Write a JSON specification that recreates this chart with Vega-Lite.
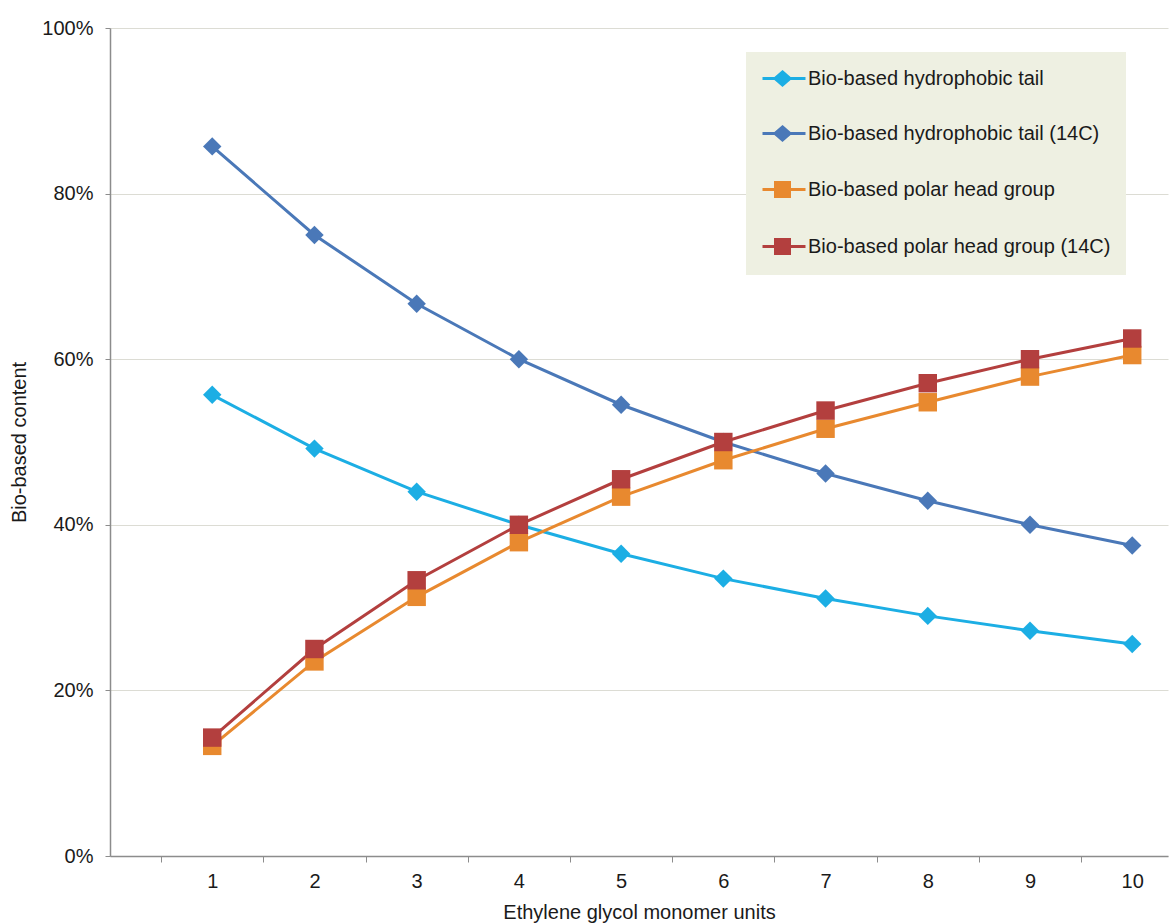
{
  "$schema": "https://vega.github.io/schema/vega-lite/v6.json",
  "width": 1058,
  "height": 828,
  "autosize": {"type": "none"},
  "padding": {"left": 110, "top": 28, "right": 2, "bottom": 68},
  "background": "white",
  "config": {
    "view": {"stroke": null},
    "font": "Liberation Sans"
  },
  "data": {
    "values": [
      {"n": 1, "series": "Bio-based hydrophobic tail", "v": 0.557},
      {"n": 2, "series": "Bio-based hydrophobic tail", "v": 0.492},
      {"n": 3, "series": "Bio-based hydrophobic tail", "v": 0.440},
      {"n": 4, "series": "Bio-based hydrophobic tail", "v": 0.400},
      {"n": 5, "series": "Bio-based hydrophobic tail", "v": 0.365},
      {"n": 6, "series": "Bio-based hydrophobic tail", "v": 0.335},
      {"n": 7, "series": "Bio-based hydrophobic tail", "v": 0.311},
      {"n": 8, "series": "Bio-based hydrophobic tail", "v": 0.290},
      {"n": 9, "series": "Bio-based hydrophobic tail", "v": 0.272},
      {"n": 10, "series": "Bio-based hydrophobic tail", "v": 0.256},
      {"n": 1, "series": "Bio-based hydrophobic tail (14C)", "v": 0.857},
      {"n": 2, "series": "Bio-based hydrophobic tail (14C)", "v": 0.750},
      {"n": 3, "series": "Bio-based hydrophobic tail (14C)", "v": 0.667},
      {"n": 4, "series": "Bio-based hydrophobic tail (14C)", "v": 0.600},
      {"n": 5, "series": "Bio-based hydrophobic tail (14C)", "v": 0.545},
      {"n": 6, "series": "Bio-based hydrophobic tail (14C)", "v": 0.500},
      {"n": 7, "series": "Bio-based hydrophobic tail (14C)", "v": 0.462},
      {"n": 8, "series": "Bio-based hydrophobic tail (14C)", "v": 0.429},
      {"n": 9, "series": "Bio-based hydrophobic tail (14C)", "v": 0.400},
      {"n": 10, "series": "Bio-based hydrophobic tail (14C)", "v": 0.375},
      {"n": 1, "series": "Bio-based polar head group", "v": 0.133},
      {"n": 2, "series": "Bio-based polar head group", "v": 0.235},
      {"n": 3, "series": "Bio-based polar head group", "v": 0.313},
      {"n": 4, "series": "Bio-based polar head group", "v": 0.379},
      {"n": 5, "series": "Bio-based polar head group", "v": 0.434},
      {"n": 6, "series": "Bio-based polar head group", "v": 0.478},
      {"n": 7, "series": "Bio-based polar head group", "v": 0.516},
      {"n": 8, "series": "Bio-based polar head group", "v": 0.548},
      {"n": 9, "series": "Bio-based polar head group", "v": 0.579},
      {"n": 10, "series": "Bio-based polar head group", "v": 0.605},
      {"n": 1, "series": "Bio-based polar head group (14C)", "v": 0.143},
      {"n": 2, "series": "Bio-based polar head group (14C)", "v": 0.250},
      {"n": 3, "series": "Bio-based polar head group (14C)", "v": 0.333},
      {"n": 4, "series": "Bio-based polar head group (14C)", "v": 0.400},
      {"n": 5, "series": "Bio-based polar head group (14C)", "v": 0.455},
      {"n": 6, "series": "Bio-based polar head group (14C)", "v": 0.500},
      {"n": 7, "series": "Bio-based polar head group (14C)", "v": 0.538},
      {"n": 8, "series": "Bio-based polar head group (14C)", "v": 0.571},
      {"n": 9, "series": "Bio-based polar head group (14C)", "v": 0.600},
      {"n": 10, "series": "Bio-based polar head group (14C)", "v": 0.625}
    ]
  },
  "encoding": {
    "x": {
      "field": "n",
      "type": "quantitative",
      "scale": {"domain": [0, 10.35], "nice": false, "zero": false},
      "axis": {
        "title": "Ethylene glycol monomer units",
        "values": [0.5, 1, 1.5, 2, 2.5, 3, 3.5, 4, 4.5, 5, 5.5, 6, 6.5, 7, 7.5, 8, 8.5, 9, 9.5, 10],
        "labelExpr": "datum.value % 1 == 0 ? format(datum.value, 'd') : ''",
        "tickOpacity": {"condition": {"test": "datum.value % 1 == 0", "value": 0}, "value": 1},
        "grid": false,
        "domainColor": "#8c8c8c",
        "domainWidth": 1.5,
        "tickColor": "#8c8c8c",
        "tickSize": 6,
        "labelFontSize": 20,
        "labelColor": "#1a1a1a",
        "labelPadding": 9,
        "labelFont": "Liberation Sans",
        "titleFont": "Liberation Sans",
        "titleFontSize": 20,
        "titleFontWeight": "normal",
        "titleColor": "#1a1a1a",
        "titlePadding": 11
      }
    },
    "y": {
      "field": "v",
      "type": "quantitative",
      "scale": {"domain": [0, 1], "nice": false},
      "axis": {
        "title": "Bio-based content",
        "values": [0, 0.2, 0.4, 0.6, 0.8, 1],
        "format": ".0%",
        "grid": true,
        "gridColor": "#dcdcd4",
        "gridWidth": 1,
        "domainColor": "#8c8c8c",
        "domainWidth": 1.5,
        "tickColor": "#8c8c8c",
        "tickSize": 5,
        "labelFontSize": 20,
        "labelColor": "#1a1a1a",
        "labelPadding": 12,
        "labelFont": "Liberation Sans",
        "titleFont": "Liberation Sans",
        "titleFontSize": 20,
        "titleFontWeight": "normal",
        "titleColor": "#1a1a1a",
        "titlePadding": 12
      }
    }
  },
  "resolve": {
    "scale": {"shape": "independent", "fill": "independent", "stroke": "independent"},
    "legend": {"shape": "independent", "fill": "independent", "stroke": "independent"}
  },
  "layer": [
    {
      "mark": {"type": "line", "strokeWidth": 3},
      "encoding": {
        "color": {
          "field": "series",
          "type": "nominal",
          "scale": {
            "domain": ["Bio-based hydrophobic tail", "Bio-based hydrophobic tail (14C)", "Bio-based polar head group", "Bio-based polar head group (14C)"],
            "range": ["#1caee4", "#4a78b8", "#e8892f", "#b33f3e"]
          },
          "legend": null
        }
      }
    },
    {
      "mark": {"type": "point", "filled": true, "opacity": 1},
      "encoding": {
        "color": {"field": "series", "type": "nominal", "legend": null},
        "shape": {
          "field": "series",
          "type": "nominal",
          "scale": {
            "domain": ["Bio-based hydrophobic tail", "Bio-based hydrophobic tail (14C)", "Bio-based polar head group", "Bio-based polar head group (14C)"],
            "range": ["diamond", "diamond", "square", "square"]
          },
          "legend": null
        },
        "size": {"value": 340}
      }
    },
    {
      "transform": [{"filter": "datum.n > 100"}],
      "mark": {"type": "point", "filled": true, "opacity": 1, "strokeWidth": 3},
      "encoding": {
        "fill": {
          "field": "series",
          "type": "nominal",
          "scale": {
            "domain": ["Bio-based hydrophobic tail", "Bio-based hydrophobic tail (14C)", "Bio-based polar head group", "Bio-based polar head group (14C)"],
            "range": ["#1caee4", "#4a78b8", "#e8892f", "#b33f3e"]
          },
          "legend": {
            "title": null,
            "orient": "none",
            "legendX": 636,
            "legendY": 24,
            "fillColor": "#eef0e2",
            "padding": 15,
            "symbolSize": 400,
            "symbolStrokeWidth": 3,
            "symbolOpacity": 1,
            "labelOffset": 24,
            "labelFontSize": 20,
            "labelFont": "Liberation Sans",
            "labelColor": "#1a1a1a",
            "labelLimit": 400,
            "rowPadding": 30
          }
        },
        "stroke": {
          "field": "series",
          "type": "nominal",
          "scale": {
            "domain": ["Bio-based hydrophobic tail", "Bio-based hydrophobic tail (14C)", "Bio-based polar head group", "Bio-based polar head group (14C)"],
            "range": ["#1caee4", "#4a78b8", "#e8892f", "#b33f3e"]
          },
          "legend": {
            "title": null,
            "orient": "none",
            "legendX": 636,
            "legendY": 24,
            "fillColor": "#eef0e2",
            "padding": 15,
            "symbolSize": 400,
            "symbolStrokeWidth": 3,
            "symbolOpacity": 1,
            "labelOffset": 24,
            "labelFontSize": 20,
            "labelFont": "Liberation Sans",
            "labelColor": "#1a1a1a",
            "labelLimit": 400,
            "rowPadding": 30
          }
        },
        "shape": {
          "field": "series",
          "type": "nominal",
          "scale": {
            "domain": ["Bio-based hydrophobic tail", "Bio-based hydrophobic tail (14C)", "Bio-based polar head group", "Bio-based polar head group (14C)"],
            "range": [
              "M-1,0L3.3,0M1,-0.65L1.75,0L1,0.65L0.25,0Z",
              "M-1,0L3.3,0M1,-0.65L1.75,0L1,0.65L0.25,0Z",
              "M-1,0L3.3,0M0.3,-0.7L1.7,-0.7L1.7,0.7L0.3,0.7Z",
              "M-1,0L3.3,0M0.3,-0.7L1.7,-0.7L1.7,0.7L0.3,0.7Z"
            ]
          },
          "legend": {
            "title": null,
            "orient": "none",
            "legendX": 636,
            "legendY": 24,
            "fillColor": "#eef0e2",
            "padding": 15,
            "symbolSize": 400,
            "symbolStrokeWidth": 3,
            "symbolOpacity": 1,
            "labelOffset": 24,
            "labelFontSize": 20,
            "labelFont": "Liberation Sans",
            "labelColor": "#1a1a1a",
            "labelLimit": 400,
            "rowPadding": 30
          }
        }
      }
    }
  ]
}
